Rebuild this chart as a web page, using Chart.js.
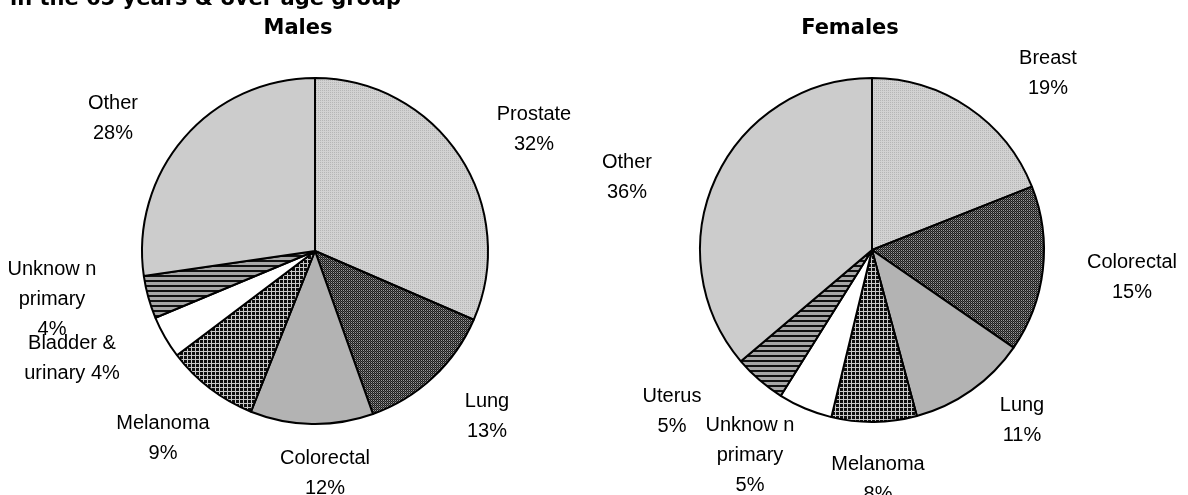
<!DOCTYPE html>
<html>
<head>
<meta charset="utf-8">
<script src="https://cdn.jsdelivr.net/npm/chart.js@4.4.0/dist/chart.umd.min.js"></script>
<style>
  html, body { margin: 0; padding: 0; background: #ffffff; }
  #wrap { position: relative; width: 1188px; height: 495px; overflow: hidden; background: #fff; }
  canvas { position: absolute; left: 0; top: 0; }
</style>
</head>
<body>
<div id="wrap">
  <canvas id="males" width="1188" height="495"></canvas>
  <canvas id="females" width="1188" height="495"></canvas>
</div>
<script>
// ---------------- DATA ----------------
const mainTitle = "in the 65 years & over age group";
const malesTitle = "Males";
const femalesTitle = "Females";

const malesCategories = ["Prostate", "Lung", "Colorectal", "Melanoma", "Bladder & urinary", "Unknown primary", "Other"];
const malesValues = [31.6, 13.1, 11.5, 8.7, 4.0, 4.0, 27.4];
const malesLabelLines = [
  ["Prostate", "32%"],
  ["Lung", "13%"],
  ["Colorectal", "12%"],
  ["Melanoma", "9%"],
  ["Bladder &", "urinary 4%"],
  ["Unknow n", "primary", "4%"],
  ["Other", "28%"]
];

const femalesCategories = ["Breast", "Colorectal", "Lung", "Melanoma", "Unknown primary", "Uterus", "Other"];
const femalesValues = [19.0, 15.6, 11.2, 8.0, 5.1, 4.9, 36.2];
const femalesLabelLines = [
  ["Breast", "19%"],
  ["Colorectal", "15%"],
  ["Lung", "11%"],
  ["Melanoma", "8%"],
  ["Unknow n", "primary", "5%"],
  ["Uterus", "5%"],
  ["Other", "36%"]
];

// ---------------- LAYOUT (label anchors relative to pie centre) ----------------
const malesLabelPos = [[219,-137],[172,150],[10,207],[-152,172],[-243,92],[-263,18],[-202,-148]];
const femalesLabelPos = [[176,-192],[260,12],[150,155],[6,214],[-122,175],[-200,146],[-245,-88]];

// ---------------- PATTERNS ----------------
function makePattern(w, h, paint) {
  const c = document.createElement('canvas');
  c.width = w; c.height = h;
  const g = c.getContext('2d');
  paint(g);
  return g.createPattern(c, 'repeat');
}
const patLightDots = makePattern(2, 2, g => {
  g.fillStyle = '#d2d2d2'; g.fillRect(0,0,2,2);
  g.fillStyle = '#b6b6b6'; g.fillRect(0,0,1,1);
});
const patDarkDots = makePattern(2, 2, g => {
  g.fillStyle = '#1c1c1c'; g.fillRect(0,0,2,2);
  g.fillStyle = '#9a9a9a'; g.fillRect(1,0,1,1);
  g.fillStyle = '#555555'; g.fillRect(0,1,1,1);
});
const patGrid = makePattern(4, 4, g => {
  g.fillStyle = '#0e0e0e'; g.fillRect(0,0,4,4);
  g.fillStyle = '#c8c8c8'; g.fillRect(3,0,1,4); g.fillRect(0,3,4,1);
});
const patStripes = makePattern(4, 5, g => {
  g.fillStyle = '#a6a6a6'; g.fillRect(0,0,4,5);
  g.fillStyle = '#111111'; g.fillRect(0,0,4,2);
});
const solidGray = '#b3b3b3';
const solidLight = '#cccccc';
const white = '#ffffff';

const malesFills = [patLightDots, patDarkDots, solidGray, patGrid, white, patStripes, solidLight];
const femalesFills = [patLightDots, patDarkDots, solidGray, patGrid, white, patStripes, solidLight];

// ---------------- PLUGINS ----------------
function labelPlugin(lines, pos, lineH) {
  return {
    id: 'sliceLabels',
    afterDatasetsDraw(chart) {
      const ctx = chart.ctx;
      const arc = chart.getDatasetMeta(0).data[0];
      const cx = arc.x, cy = arc.y;
      ctx.save();
      ctx.font = '20px "Liberation Sans", Arial, sans-serif';
      ctx.fillStyle = '#000';
      ctx.textAlign = 'center';
      ctx.textBaseline = 'middle';
      lines.forEach((ls, i) => {
        const p = pos[i];
        ls.forEach((t, k) => ctx.fillText(t, cx + p[0], cy + p[1] + k * lineH));
      });
      ctx.restore();
    }
  };
}
function titlePlugin(items) {
  return {
    id: 'titles',
    afterDraw(chart) {
      const ctx = chart.ctx;
      ctx.save();
      ctx.fillStyle = '#000';
      ctx.textBaseline = 'alphabetic';
      items.forEach(it => {
        ctx.font = 'bold 21px "DejaVu Sans", Verdana, sans-serif';
        ctx.textAlign = it.align;
        ctx.fillText(it.text, it.x, it.y);
      });
      ctx.restore();
    }
  };
}

function makePie(id, cats, vals, fills, radius, pad, plugins) {
  return new Chart(document.getElementById(id), {
    type: 'pie',
    data: {
      labels: cats,
      datasets: [{
        data: vals,
        backgroundColor: fills,
        borderColor: '#000000',
        borderWidth: 2,
        radius: radius,
        hoverOffset: 0
      }]
    },
    options: {
      responsive: false,
      animation: false,
      devicePixelRatio: 1,
      events: [],
      layout: { padding: pad },
      plugins: { legend: { display: false }, tooltip: { enabled: false }, title: { display: false } }
    },
    plugins: plugins
  });
}

makePie('males', malesCategories, malesValues, malesFills, 173,
  { left: 0, right: 558, top: 7, bottom: 0 },
  [labelPlugin(malesLabelLines, malesLabelPos, 30),
   titlePlugin([
     { text: mainTitle, x: 10, y: 5, align: 'left' },
     { text: malesTitle, x: 298, y: 34, align: 'center' }
   ])]);

makePie('females', femalesCategories, femalesValues, femalesFills, 172,
  { left: 556, right: 0, top: 5, bottom: 0 },
  [labelPlugin(femalesLabelLines, femalesLabelPos, 30),
   titlePlugin([
     { text: femalesTitle, x: 850, y: 34, align: 'center' }
   ])]);
</script>
</body>
</html>
